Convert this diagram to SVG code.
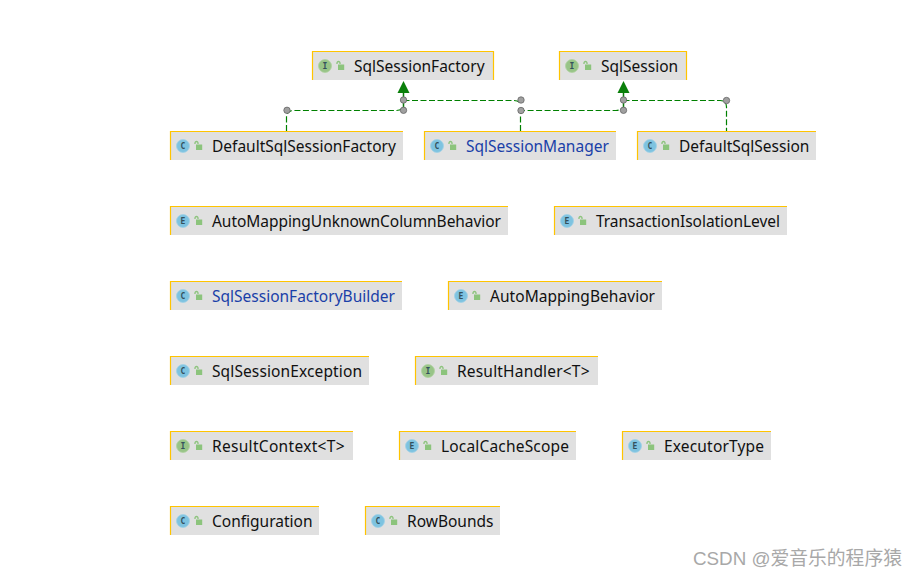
<svg xmlns="http://www.w3.org/2000/svg" width="919" height="577" viewBox="0 0 919 577">
<style>
.bg{fill:#e0e0e0}
.edge{fill:none;stroke:#ffc400;stroke-width:1.2}
.t{font-family:"Noto Sans","Open Sans",sans-serif;font-size:15.5px;fill:#111}
.b{fill:#1a3fa8}
.ic{font-family:"DejaVu Sans Mono",monospace;font-size:8px;font-weight:bold;fill:#33505c;text-anchor:middle}
.cc{fill:#7ec3e0;stroke:#9fd0e6;stroke-width:.8}
.ci{fill:#98c487;stroke:#aed29f;stroke-width:.8}
.lk{fill:#8cc47c}
.lks{fill:none;stroke:#8cc47c;stroke-width:1.3}
.c{fill:none;stroke:#008000;stroke-width:1.2;stroke-dasharray:6 2.500}
.s{fill:none;stroke:#0a7a0a;stroke-width:1.5}
.d{fill:#a0a0a0;stroke:#666;stroke-width:.8}
.wm{font-family:"Liberation Sans","Noto Sans CJK SC",sans-serif;font-size:18.800px;fill:#a8a8a8}
</style>
<defs>
<g id="lock"><rect class="lk" x="0" y="-1.500" width="6.200" height="5.500"/><path class="lks" d="M-1,-2 v-1 a1.500,1.500 0 0 1 3,0 v1"/></g>
</defs>
<rect width="919" height="577" fill="#fff"/>
<g id="connectors">
<path class="c" d="M286.500,131 V117.500 Q286.500,110.500 293.500,110.500 H396 Q400,110.500 403,108"/>
<path class="c" d="M520.500,131 V115.500 Q520.500,110.500 525.500,110.500 H616 Q620,110.500 623,108"/>
<path class="c" d="M403.500,100.500 H514 Q518,100.500 520.500,103"/>
<path class="c" d="M623.500,100.500 H720 Q726.500,100.500 726.500,107 V131"/>
<path class="s" d="M403.500,91 V110"/>
<path class="s" d="M623.500,91 V110"/>
<polygon points="403.500,81 397.500,93 409.500,93" fill="#0a7f0a"/>
<polygon points="623.500,81 617.500,93 629.500,93" fill="#0a7f0a"/>
<circle class="d" cx="287" cy="110.300" r="3.200"/>
<circle class="d" cx="403.500" cy="100" r="3.200"/>
<circle class="d" cx="403.500" cy="110.300" r="3.200"/>
<circle class="d" cx="521" cy="100" r="3.200"/>
<circle class="d" cx="521" cy="110.500" r="3.200"/>
<circle class="d" cx="623.500" cy="100" r="3.200"/>
<circle class="d" cx="623.500" cy="110.300" r="3.200"/>
<circle class="d" cx="726.500" cy="100.500" r="3.200"/>
</g>
<g id="n1"><rect class="bg" x="312" y="51" width="182" height="29"/><path class="edge" d="M312.500,80V51.500H493.500V80"/><circle class="ci" cx="325" cy="66" r="6.500"/><text class="ic" x="325" y="69">I</text><use href="#lock" x="338" y="66"/><text class="t" x="354" y="72">SqlSessionFactory</text></g>
<g id="n2"><rect class="bg" x="559" y="51" width="128" height="29"/><path class="edge" d="M559.500,80V51.500H686.500V80"/><circle class="ci" cx="572" cy="66" r="6.500"/><text class="ic" x="572" y="69">I</text><use href="#lock" x="585" y="66"/><text class="t" x="601" y="72">SqlSession</text></g>
<g id="n3"><rect class="bg" x="170" y="131" width="233" height="29"/><path class="edge" d="M170.500,160V131.500H403"/><circle class="cc" cx="183" cy="146" r="6.500"/><text class="ic" x="183" y="149">C</text><use href="#lock" x="196" y="146"/><text class="t" x="212" y="152">DefaultSqlSessionFactory</text></g>
<g id="n4"><rect class="bg" x="424" y="131" width="192" height="29"/><path class="edge" d="M424.500,160V131.500H616"/><circle class="cc" cx="437" cy="146" r="6.500"/><text class="ic" x="437" y="149">C</text><use href="#lock" x="450" y="146"/><text class="t b" x="466" y="152">SqlSessionManager</text></g>
<g id="n5"><rect class="bg" x="637" y="131" width="179" height="29"/><path class="edge" d="M637.500,160V131.500H816"/><circle class="cc" cx="650" cy="146" r="6.500"/><text class="ic" x="650" y="149">C</text><use href="#lock" x="663" y="146"/><text class="t" x="679" y="152">DefaultSqlSession</text></g>
<g id="n6"><rect class="bg" x="170" y="206" width="338" height="29"/><path class="edge" d="M170.500,235V206.500H508"/><circle class="cc" cx="183" cy="221" r="6.500"/><text class="ic" x="183" y="224">E</text><use href="#lock" x="196" y="221"/><text class="t" x="212" y="227" textLength="289">AutoMappingUnknownColumnBehavior</text></g>
<g id="n7"><rect class="bg" x="554" y="206" width="233" height="29"/><path class="edge" d="M554.500,235V206.500H787"/><circle class="cc" cx="567" cy="221" r="6.500"/><text class="ic" x="567" y="224">E</text><use href="#lock" x="580" y="221"/><text class="t" x="596" y="227" textLength="184">TransactionIsolationLevel</text></g>
<g id="n8"><rect class="bg" x="170" y="281" width="232" height="29"/><path class="edge" d="M170.500,310V281.500H402"/><circle class="cc" cx="183" cy="296" r="6.500"/><text class="ic" x="183" y="299">C</text><use href="#lock" x="196" y="296"/><text class="t b" x="212" y="302">SqlSessionFactoryBuilder</text></g>
<g id="n9"><rect class="bg" x="448" y="281" width="214" height="29"/><path class="edge" d="M448.500,310V281.500H662"/><circle class="cc" cx="461" cy="296" r="6.500"/><text class="ic" x="461" y="299">E</text><use href="#lock" x="474" y="296"/><text class="t" x="490" y="302" textLength="165">AutoMappingBehavior</text></g>
<g id="n10"><rect class="bg" x="170" y="356" width="199" height="29"/><path class="edge" d="M170.500,385V356.500H369"/><circle class="cc" cx="183" cy="371" r="6.500"/><text class="ic" x="183" y="374">C</text><use href="#lock" x="196" y="371"/><text class="t" x="212" y="377" textLength="150">SqlSessionException</text></g>
<g id="n11"><rect class="bg" x="415" y="356" width="183" height="29"/><path class="edge" d="M415.500,385V356.500H598"/><circle class="ci" cx="428" cy="371" r="6.500"/><text class="ic" x="428" y="374">I</text><use href="#lock" x="441" y="371"/><text class="t" x="457" y="377" textLength="132.500">ResultHandler&lt;T&gt;</text></g>
<g id="n12"><rect class="bg" x="170" y="431" width="183" height="29"/><path class="edge" d="M170.500,460V431.500H353"/><circle class="ci" cx="183" cy="446" r="6.500"/><text class="ic" x="183" y="449">I</text><use href="#lock" x="196" y="446"/><text class="t" x="212" y="452" textLength="132.500">ResultContext&lt;T&gt;</text></g>
<g id="n13"><rect class="bg" x="399" y="431" width="177" height="29"/><path class="edge" d="M399.500,460V431.500H576"/><circle class="cc" cx="412" cy="446" r="6.500"/><text class="ic" x="412" y="449">E</text><use href="#lock" x="425" y="446"/><text class="t" x="441" y="452" textLength="128">LocalCacheScope</text></g>
<g id="n14"><rect class="bg" x="622" y="431" width="149" height="29"/><path class="edge" d="M622.500,460V431.500H771"/><circle class="cc" cx="635" cy="446" r="6.500"/><text class="ic" x="635" y="449">E</text><use href="#lock" x="648" y="446"/><text class="t" x="664" y="452" textLength="100">ExecutorType</text></g>
<g id="n15"><rect class="bg" x="170" y="506" width="149" height="29"/><path class="edge" d="M170.500,535V506.500H319"/><circle class="cc" cx="183" cy="521" r="6.500"/><text class="ic" x="183" y="524">C</text><use href="#lock" x="196" y="521"/><text class="t" x="212" y="527">Configuration</text></g>
<g id="n16"><rect class="bg" x="365" y="506" width="135" height="29"/><path class="edge" d="M365.500,535V506.500H500"/><circle class="cc" cx="378" cy="521" r="6.500"/><text class="ic" x="378" y="524">C</text><use href="#lock" x="391" y="521"/><text class="t" x="407" y="527">RowBounds</text></g>
<text class="wm" x="693" y="565">CSDN @爱音乐的程序猿</text>
</svg>
